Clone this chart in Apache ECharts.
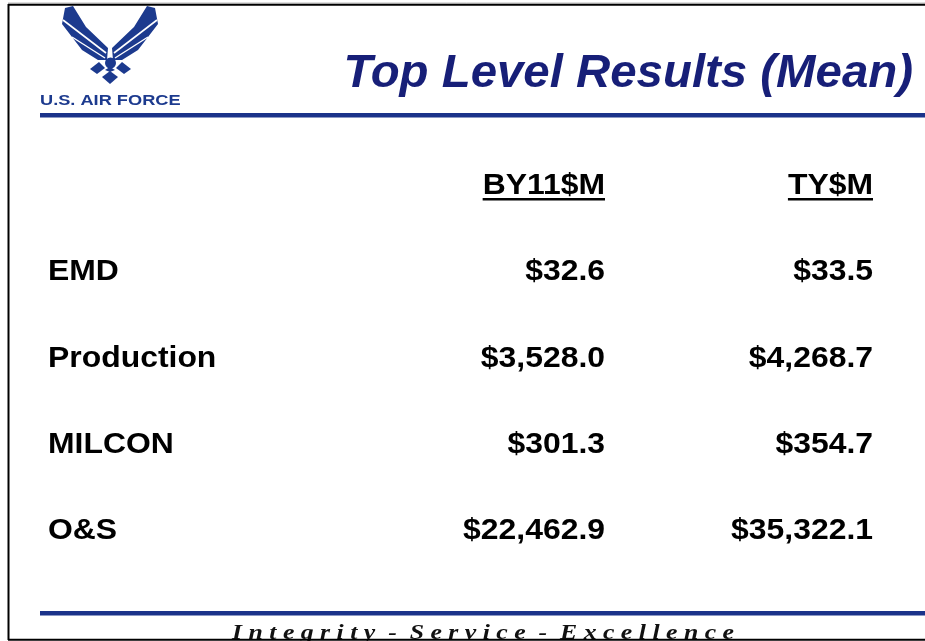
<!DOCTYPE html>
<html>
<head>
<meta charset="utf-8">
<script src="https://cdn.jsdelivr.net/npm/echarts@6.0.0/dist/echarts.min.js"></script>
<style>
  html, body { margin: 0; padding: 0; background: #fff; }
  #chart { width: 925px; height: 641px; }
</style>
</head>
<body>
<div id="chart"></div>
<script>
// table contents
var columns = ['BY11$M', 'TY$M'];
var rows = ['EMD', 'Production', 'MILCON', 'O&S'];
var by11 = [32.6, 3528.0, 301.3, 22462.9];
var ty = [33.5, 4268.7, 354.7, 35322.1];

var title = 'Top Level Results (Mean)';
var footer = 'Integrity - Service - Excellence';

// look
var NAVY = '#171f78';
var AF_BLUE = '#1c3a8e';
var BODY_FONT = 'bold 29px "Liberation Sans", Arial, sans-serif';
var BODY_SCALE = 1.10;
var LABEL_X = 48;

var measureCtx = document.createElement('canvas').getContext('2d');
function textWidth(txt, font) {
    measureCtx.font = font;
    return measureCtx.measureText(txt).width;
}
function money(v) {
    return '$' + v.toLocaleString('en-US', { minimumFractionDigits: 1, maximumFractionDigits: 1 });
}

// one cell per table entry, row 0 is the header row
var cells = [];
columns.forEach(function (c, i) {
    cells.push({ col: i, row: 0, text: c, kind: 'head' });
});
rows.forEach(function (r, j) {
    cells.push({ col: 0, row: j + 1, text: r, kind: 'label' });
    cells.push({ col: 0, row: j + 1, text: money(by11[j]), kind: 'value' });
    cells.push({ col: 1, row: j + 1, text: money(ty[j]), kind: 'value' });
});

// letter-spaced footer
var footerText = footer.split(' ').map(function (w) { return w.split('').join(' '); }).join('  ');
var FOOTER_FONT = 'italic bold 20px "Liberation Serif", "DejaVu Serif", serif';
var footerScale = 502 / textWidth(footerText, FOOTER_FONT);

// Air Force wings, left half; right half is mirrored about x = 110
var wingL = [[65, 8], [73, 6], [86, 27], [108, 48], [107, 60], [98, 60], [82, 50], [62, 24]];
function mirror(pts) { return pts.map(function (p) { return [220 - p[0], p[1]]; }); }

var logo = [
    { type: 'polygon', shape: { points: wingL }, style: { fill: AF_BLUE } },
    { type: 'polygon', shape: { points: mirror(wingL) }, style: { fill: AF_BLUE } },
    { type: 'line', shape: { x1: 63, y1: 20, x2: 106, y2: 53 }, style: { stroke: '#fff', lineWidth: 1.6 } },
    { type: 'line', shape: { x1: 72, y1: 37, x2: 105, y2: 58 }, style: { stroke: '#fff', lineWidth: 1.4 } },
    { type: 'line', shape: { x1: 157, y1: 20, x2: 114, y2: 53 }, style: { stroke: '#fff', lineWidth: 1.6 } },
    { type: 'line', shape: { x1: 148, y1: 37, x2: 115, y2: 58 }, style: { stroke: '#fff', lineWidth: 1.4 } },
    { type: 'circle', shape: { cx: 110.5, cy: 63, r: 5.5 }, style: { fill: AF_BLUE } },
    { type: 'polygon', shape: { points: [[90, 69], [99, 62], [105, 68], [97, 74]] }, style: { fill: AF_BLUE } },
    { type: 'polygon', shape: { points: [[131, 69], [122, 62], [116, 68], [124, 74]] }, style: { fill: AF_BLUE } },
    { type: 'polygon', shape: { points: [[110, 71], [118, 77], [110, 84], [102, 77]] }, style: { fill: AF_BLUE } },
    { type: 'polygon', shape: { points: [[105, 70], [110, 67], [115, 70], [110, 72]] }, style: { fill: AF_BLUE } },
    {
        type: 'text', x: 40, y: 101, scaleX: 1.3,
        style: { text: 'U.S. AIR FORCE', font: 'bold 14px "Liberation Sans", Arial, sans-serif', fill: AF_BLUE, align: 'left', verticalAlign: 'middle' }
    }
];

var chart = echarts.init(document.getElementById('chart'));
var option = {
    backgroundColor: '#fff',
    animation: false,
    grid: { left: 605, right: 52, top: 186, bottom: 110, outerBoundsMode: 'none' },
    xAxis: { type: 'category', data: columns, boundaryGap: false, show: false },
    yAxis: { type: 'category', data: [''].concat(rows), inverse: true, boundaryGap: false, show: false },
    graphic: [
        // slide frame
        { type: 'line', shape: { x1: 8, y1: 3, x2: 925, y2: 3 }, style: { stroke: '#bbb', lineWidth: 1 } },
        { type: 'line', shape: { x1: 8, y1: 4.8, x2: 925, y2: 4.8 }, style: { stroke: '#000', lineWidth: 2 } },
        { type: 'line', shape: { x1: 8.5, y1: 4, x2: 8.5, y2: 640 }, style: { stroke: '#000', lineWidth: 2 } },
        { type: 'line', shape: { x1: 8, y1: 639.8, x2: 925, y2: 639.8 }, style: { stroke: '#000', lineWidth: 2 } },
        // blue rules
        { type: 'rect', shape: { x: 40, y: 113, width: 885, height: 4.5 }, style: { fill: '#1b338a' } },
        { type: 'rect', shape: { x: 40, y: 611, width: 885, height: 4.5 }, style: { fill: '#1b338a' } },
        // title
        {
            type: 'text', x: 913, y: 74, scaleX: 1.03,
            style: { text: title, font: 'italic bold 46px "Liberation Sans", Arial, sans-serif', fill: NAVY, align: 'right', verticalAlign: 'middle' }
        },
        // footer, partly clipped by the bottom edge
        {
            type: 'text', x: 483, y: 644, scaleX: footerScale,
            style: { text: footerText, font: FOOTER_FONT, fill: '#111', align: 'center', verticalAlign: 'bottom' },
            z: -1
        }
    ].concat(logo),
    series: [{
        type: 'custom',
        coordinateSystem: 'cartesian2d',
        data: cells.map(function (c) { return [c.col, c.row]; }),
        renderItem: function (params, api) {
            var cell = cells[params.dataIndex];
            var pt = api.coord([api.value(0), api.value(1)]);
            var x = cell.kind === 'label' ? LABEL_X : pt[0];
            var align = cell.kind === 'label' ? 'left' : 'right';
            var children = [{
                type: 'text',
                style: { text: cell.text, x: 0, y: 0, font: BODY_FONT, fill: '#000', align: align, verticalAlign: 'middle' }
            }];
            if (cell.kind === 'head') {
                var w = textWidth(cell.text, BODY_FONT);
                children.push({ type: 'rect', shape: { x: -w, y: 12, width: w, height: 2.5 }, style: { fill: '#000' } });
            }
            return { type: 'group', x: x, y: pt[1], scaleX: BODY_SCALE, children: children };
        }
    }]
};
chart.setOption(option);
</script>
</body>
</html>
